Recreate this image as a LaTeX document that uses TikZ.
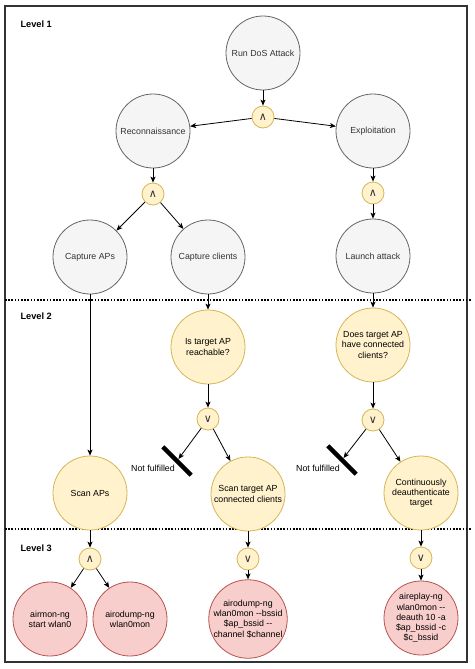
\documentclass[tikz,border=0pt]{standalone}
\usepackage{fontspec}
\setmainfont{Liberation Sans}
\newfontfamily\symfont{DejaVu Sans}
\usetikzlibrary{arrows.meta}
\definecolor{gfill}{HTML}{F5F5F5}
\definecolor{gline}{HTML}{666666}
\definecolor{gtext}{HTML}{333333}
\definecolor{yfill}{HTML}{FFF2CC}
\definecolor{yline}{HTML}{D6B656}
\definecolor{rfill}{HTML}{F8CECC}
\definecolor{rline}{HTML}{B85450}
\definecolor{frame}{HTML}{333333}
\tikzset{
  txt/.style={font=\fontsize{8.8}{10.2}\selectfont, align=center},
  gnode/.style={circle, draw=gline, fill=gfill, text=gtext, line width=0.8pt, minimum size=74pt, inner sep=0pt, txt},
  ynode/.style={circle, draw=yline, fill=yfill, text=black, line width=0.8pt, minimum size=74pt, inner sep=0pt, txt},
  rnode/.style={circle, draw=rline, fill=rfill, text=black, line width=0.8pt, minimum size=74pt, inner sep=0pt, txt},
  gate/.style={circle, draw=yline, fill=yfill, text=gtext, line width=0.8pt, minimum size=22pt, inner sep=0pt, font=\symfont\fontsize{11}{12}\selectfont},
  bar/.style={rectangle, fill=black, minimum width=40pt, minimum height=4.5pt, inner sep=0pt},
  arr/.style={-{Stealth[length=6pt,width=5pt,inset=1.5pt]}, line width=0.8pt, black},
  lvl/.style={font=\bfseries\fontsize{9.2}{11}\selectfont, anchor=west},
  nf/.style={txt, text=black},
  sep/.style={line width=1.5pt, dash pattern=on 1.5pt off 1.7pt, black}
}
\begin{document}
\begin{tikzpicture}[x=1pt,y=-1pt]
\useasboundingbox (0,0) rectangle (474,669);
\fill[white] (0,0) rectangle (474,669);
\draw[frame, line width=1.2pt] (5,6) rectangle (467,662);
\draw[sep] (5,300) -- (472,300);
\draw[sep] (5,529) -- (472,529);

\node[lvl] (l1) at (17,24) {Level 1};
\node[lvl] (l2) at (17,316) {Level 2};
\node[lvl] (l3) at (17,548) {Level 3};

% Level 1
\node[gnode] (dos) at (263,53) {Run DoS Attack};
\node[gate] (a1) at (263,117) {∧};
\node[gnode] (rec) at (153,131) {Reconnaissance};
\node[gnode] (exp) at (373,131) {Exploitation};
\node[gate] (a2) at (153,194) {∧};
\node[gate] (a3) at (373,193) {∧};
\node[gnode] (capaps) at (90,257) {Capture APs};
\node[gnode] (capcl) at (208,257) {Capture clients};
\node[gnode] (launch) at (373,256) {Launch attack};

% Level 2
\node[ynode] (reach) at (208,347) {Is target AP\\reachable?};
\node[ynode] (hascl) at (373,345) {Does target AP\\have connected\\clients?};
\node[gate] (o1) at (208,419) {∨};
\node[gate] (o2) at (373,420) {∨};
\node[bar, rotate=-45] (bar1) at (177,461) {};
\node[bar, rotate=-45] (bar2) at (342,460) {};
\node[nf] (nf1) at (153,468) {Not fulfilled};
\node[nf] (nf2) at (318,468) {Not fulfilled};
\node[ynode] (scanaps) at (90,493) {Scan APs};
\node[ynode] (scantgt) at (248,494) {Scan target AP\\connected clients};
\node[ynode] (deauth) at (421,493) {Continuously\\deauthenticate\\target};

% Level 3
\node[gate] (a4) at (90,559) {∧};
\node[gate] (o3) at (248,559) {∨};
\node[gate] (o4) at (421,558) {∨};
\node[rnode] (airmon) at (50,619) {airmon-ng\\start wlan0};
\node[rnode] (airodump) at (130,619) {airodump-ng\\wlan0mon};
\node[rnode] (airodumpb) at (248,619) {airodump-ng\\wlan0mon -{}-bssid\\\$ap\_bssid -{}-\\channel \$channel};
\node[rnode] (aireplay) at (421,618) {aireplay-ng\\wlan0mon -{}-\\deauth 10 -a\\\$ap\_bssid -c\\\$c\_bssid};

% connectors
\draw[arr] (dos) -- (a1);
\draw[arr] (a1) -- (rec);
\draw[arr] (a1) -- (exp);
\draw[arr] (rec) -- (a2);
\draw[arr] (exp) -- (a3);
\draw[arr] (a2) -- (capaps);
\draw[arr] (a2) -- (capcl);
\draw[arr] (a3) -- (launch);
\draw[arr] (capaps) -- (scanaps);
\draw[arr] (capcl) -- (reach);
\draw[arr] (launch) -- (hascl);
\draw[arr] (reach) -- (o1);
\draw[arr] (hascl) -- (o2);
\draw[arr] (o1) -- (bar1);
\draw[arr] (o1) -- (scantgt);
\draw[arr] (o2) -- (bar2);
\draw[arr] (o2) -- (deauth);
\draw[arr] (scanaps) -- (a4);
\draw[arr] (scantgt) -- (o3);
\draw[arr] (deauth) -- (o4);
\draw[arr] (a4) -- (airmon);
\draw[arr] (a4) -- (airodump);
\draw[arr] (o3) -- (airodumpb);
\draw[arr] (o4) -- (aireplay);
\end{tikzpicture}
\end{document}
